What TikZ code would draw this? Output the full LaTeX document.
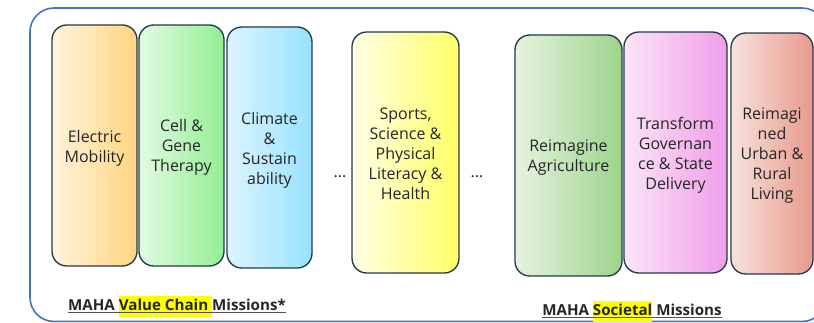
\documentclass[tikz,border=0pt]{standalone}
\usepackage{fontspec}
\setmainfont{Open Sans}
\usetikzlibrary{calc}
\definecolor{outerblue}{HTML}{4472C4}
\definecolor{edge}{HTML}{213B4B}
\definecolor{txt}{HTML}{262626}
\definecolor{hl}{HTML}{FFFF00}
\definecolor{aL}{HTML}{FFF3DC}\definecolor{aR}{HTML}{FFD57F}
\definecolor{bL}{HTML}{E3FBE3}\definecolor{bR}{HTML}{93EE93}
\definecolor{cL}{HTML}{DDF4FF}\definecolor{cR}{HTML}{97E2FF}
\definecolor{dL}{HTML}{FFFFE5}\definecolor{dR}{HTML}{FFFF66}
\definecolor{eL}{HTML}{E6F3E1}\definecolor{eR}{HTML}{9CD48B}
\definecolor{fL}{HTML}{FCE4F6}\definecolor{fR}{HTML}{F09EEA}
\definecolor{gL}{HTML}{F8E1DC}\definecolor{gR}{HTML}{E89A8C}
\newcommand{\hlbox}[1]{{\setlength{\fboxsep}{0pt}\colorbox{hl}{\rule[-4.5pt]{0pt}{15.5pt}#1}}}
\begin{document}
\begin{tikzpicture}[x=0.75pt,y=-0.75pt,
  mission/.style={draw=edge, line width=1pt, rounded corners=11pt,
    minimum height=180.75pt, inner sep=0pt},
  mtext/.style={align=center, text=txt, inner sep=0pt,
    font=\fontsize{12}{15}\selectfont},
  dots/.style={text=txt, font=\fontsize{12}{15}\selectfont, inner sep=0pt},
  title/.style={text=txt, font=\bfseries\fontsize{11.35}{13}\selectfont, inner sep=0pt, anchor=base},
  ul/.style={draw=txt!80, line width=0.6pt}]
\useasboundingbox (0,0) rectangle (814,323);
\draw[outerblue, line width=1.2pt, rounded corners=18pt] (30,8) rectangle (826,321.5);
\draw[black!12, line width=0.8pt] (50,322.6) -- (814,322.6);

\node[mission, minimum width=63.75pt, left color=aL, right color=aR] (em) at (94.5,145.5) {};
\node[mission, minimum width=63.75pt, left color=bL, right color=bR] (cg) at (181.5,145.5) {};
\node[mission, minimum width=63.75pt, left color=cL, right color=cR] (cs) at (269.5,147.5) {};
\node[mission, minimum width=80.25pt, left color=dL, right color=dR] (sp) at (405.5,152.5) {};
\node[mission, minimum width=80.25pt, left color=eL, right color=eR] (ra) at (568.5,155.5) {};
\node[mission, minimum width=77.25pt, left color=fL, right color=fR] (tg) at (675.5,152.5) {};
\node[mission, minimum width=61.5pt, left color=gL, right color=gR] (ru) at (772,153.5) {};

\node[mtext] (emt) at ([yshift=-2.2pt]em.center) {Electric\\Mobility};
\node[mtext] (cgt) at ([yshift=-1.6pt]cg.center) {Cell \&\\Gene\\Therapy};
\node[mtext] (cst) at ([yshift=-2.2pt]cs.center) {Climate\\\&\\Sustain\\ability};
\node[mtext] (spt) at ([yshift=-0.8pt]sp.center) {Sports,\\Science \&\\Physical\\Literacy \&\\Health};
\node[mtext] (rat) at ([yshift=-1.6pt]ra.center) {Reimagine\\Agriculture};
\node[mtext] (tgt) at ([yshift=-2.2pt]tg.center) {Transform\\Governan\\ce \& State\\Delivery};
\node[mtext] (rut) at ([yshift=-1.4pt]ru.center) {Reimagi\\ned\\Urban \&\\Rural\\Living};

\node[dots] (d1) at (340,177) {...};
\node[dots] (d2) at (477,177) {...};

\node[title] (t1) at (177,311) {MAHA \hlbox{Value Chain }Missions*};
\node[title] (t2) at (632,316) {MAHA \hlbox{Societal} Missions};
\draw[ul] ([yshift=-1.2pt]t1.base west) -- ([yshift=-1.2pt]t1.base east);
\draw[ul] ([yshift=-1.2pt]t2.base west) -- ([yshift=-1.2pt]t2.base east);
\end{tikzpicture}
\end{document}
